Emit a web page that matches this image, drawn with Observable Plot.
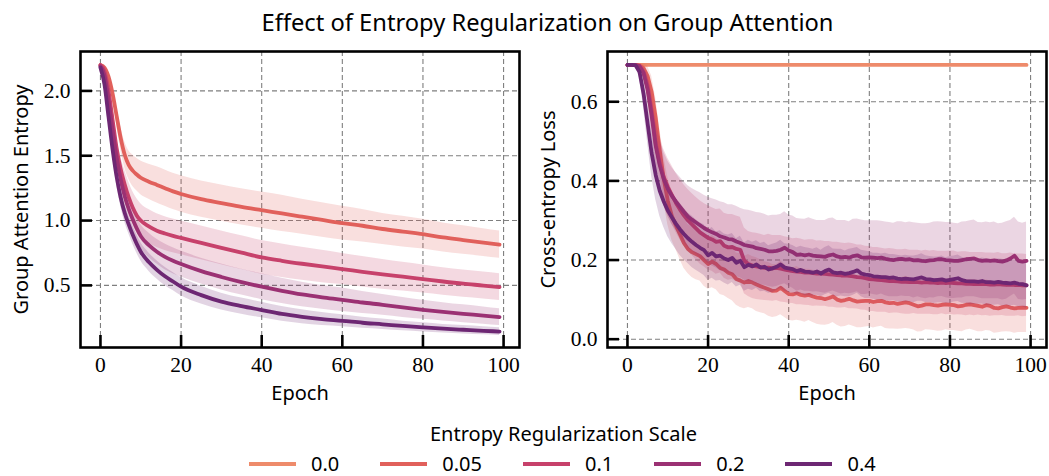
<!DOCTYPE html>
<html>
<head>
<meta charset="utf-8">
<script src="https://cdn.jsdelivr.net/npm/d3@7"></script>
<script src="https://cdn.jsdelivr.net/npm/@observablehq/plot@0.6"></script>
<style>
  html, body { margin: 0; padding: 0; background: #fff; }
  #figure { position: relative; width: 1049px; height: 476px; overflow: hidden; font-family: "Noto Sans", sans-serif; color: #000; }
  #title { position: absolute; left: 547.5px; top: 9.5px; transform: translateX(-50%); white-space: nowrap; font-size: 23.7px; line-height: 24px; }
  .panel { position: absolute; top: 0; }
  .panel svg g[aria-label$="tick label"] { font-family: "Liberation Serif", "DejaVu Serif", serif !important; font-size: 21.5px !important; font-variant: normal !important; }
  #legend-title { position: absolute; left: 563.5px; top: 424px; transform: translateX(-50%); white-space: nowrap; font-size: 20px; line-height: 20px; }
  #legend { position: absolute; left: 249px; top: 453.5px; display: flex; align-items: center; height: 20px; font-size: 20px; line-height: 20px; white-space: nowrap; }
  .item { display: flex; align-items: center; margin-right: 41px; }
  .item svg { display: block; margin-right: 15px; }
</style>
</head>
<body>
<div id="figure">
  <div id="title">Effect of Entropy Regularization on Group Attention</div>
  <div id="left" class="panel" style="left:0"></div>
  <div id="right" class="panel" style="left:525px"></div>
  <div id="legend-title">Entropy Regularization Scale</div>
  <div id="legend"></div>
</div>
<script>
// Regularization scales and their line colours
const scaleLabels = ["0.0", "0.05", "0.1", "0.2", "0.4"];
const seriesColors = ["#ee8b6b", "#e1605b", "#c7416b", "#9b3173", "#6d2773"];

// Axis ticks
const xTicks = [0, 20, 40, 60, 80, 100];
const entropyTicks = [0.5, 1.0, 1.5, 2.0];
const lossTicks = [0.0, 0.2, 0.4, 0.6];

// Group attention entropy (mean and spread) at sampled epochs
const entropyEpochs = [0,1,2,3,4,5,6,7,8,9,10,12,14,16,18,20,25,30,35,40,45,50,55,60,65,70,75,80,85,90,95,99];
const entropy005 = [2.20,2.18,2.11,1.98,1.81,1.64,1.51,1.43,1.385,1.355,1.33,1.30,1.275,1.25,1.225,1.205,1.165,1.135,1.105,1.08,1.055,1.03,1.005,0.98,0.96,0.935,0.915,0.895,0.87,0.85,0.83,0.814];
const entropySd005 = [0.01,0.02,0.03,0.05,0.07,0.09,0.10,0.11,0.12,0.125,0.13,0.135,0.14,0.14,0.14,0.14,0.14,0.14,0.14,0.14,0.14,0.135,0.133,0.13,0.125,0.12,0.118,0.115,0.112,0.11,0.107,0.105];
const entropy01 = [2.20,2.15,2.00,1.78,1.56,1.40,1.28,1.18,1.10,1.04,1.00,0.955,0.922,0.90,0.882,0.866,0.828,0.789,0.752,0.716,0.69,0.667,0.646,0.626,0.605,0.585,0.567,0.549,0.53,0.513,0.499,0.487];
const entropySd01 = [0.01,0.02,0.04,0.06,0.08,0.10,0.11,0.12,0.125,0.13,0.13,0.13,0.13,0.13,0.13,0.13,0.13,0.13,0.13,0.13,0.13,0.128,0.125,0.12,0.117,0.114,0.111,0.108,0.106,0.105,0.104,0.103];
const entropy02 = [2.19,2.12,1.93,1.70,1.49,1.32,1.19,1.09,1.01,0.94,0.88,0.81,0.76,0.72,0.69,0.665,0.61,0.565,0.525,0.49,0.458,0.43,0.408,0.389,0.368,0.35,0.33,0.312,0.296,0.281,0.267,0.255];
const entropySd02 = [0.01,0.02,0.04,0.055,0.07,0.08,0.085,0.09,0.09,0.09,0.09,0.095,0.095,0.1,0.1,0.1,0.1,0.1,0.1,0.1,0.098,0.095,0.092,0.09,0.085,0.08,0.077,0.074,0.071,0.069,0.067,0.065];
const entropy04 = [2.18,2.05,1.80,1.55,1.34,1.18,1.06,0.97,0.89,0.82,0.76,0.68,0.62,0.57,0.53,0.49,0.425,0.375,0.34,0.31,0.28,0.258,0.24,0.227,0.212,0.2,0.187,0.176,0.166,0.158,0.15,0.144];
const entropySd04 = [0.01,0.02,0.04,0.05,0.06,0.065,0.07,0.07,0.07,0.07,0.07,0.07,0.07,0.07,0.07,0.07,0.068,0.065,0.062,0.06,0.057,0.054,0.05,0.046,0.043,0.04,0.037,0.035,0.033,0.032,0.031,0.03];

// Cross-entropy loss (mean and spread) for every epoch
const lossEpochs = d3.range(100);
const lossFlatEpochs = [0, 25, 50, 75, 99];
const loss00 = [0.693, 0.693, 0.693, 0.693, 0.693];
const loss005 = [
  .693,.693,.693,.692,.685,.665,.625,.56,.478,.405,
  .35,.312,.288,.265,.243,.228,.22,.215,.21,.2,
  .19,.196,.19,.18,.176,.168,.164,.152,.148,.143,
  .147,.143,.138,.134,.13,.126,.122,.123,.13,.122,
  .114,.113,.116,.112,.11,.112,.108,.105,.104,.101,
  .104,.108,.1,.097,.099,.102,.098,.095,.096,.097,
  .097,.094,.096,.097,.093,.091,.092,.089,.091,.093,
  .091,.087,.083,.085,.088,.088,.086,.085,.087,.088,
  .087,.086,.083,.084,.087,.088,.086,.084,.082,.086,
  .084,.079,.078,.081,.083,.08,.078,.079,.08,.079];
const lossSd005 = [
  0,0,0,.002,.01,.025,.04,.05,.055,.058,
  .06,.062,.061,.063,.064,.062,.064,.065,.063,.066,
  .064,.066,.065,.067,.066,.065,.067,.066,.068,.066,
  .067,.066,.068,.067,.066,.068,.067,.066,.068,.067,
  .066,.067,.068,.066,.067,.065,.066,.067,.068,.066,
  .067,.066,.065,.066,.067,.066,.065,.066,.067,.066,
  .065,.066,.065,.064,.066,.065,.066,.064,.065,.066,
  .065,.064,.065,.066,.064,.065,.064,.065,.066,.064,
  .065,.064,.063,.065,.064,.063,.064,.065,.063,.064,
  .063,.064,.062,.063,.064,.062,.063,.062,.063,.062];
const loss01 = [
  .693,.693,.693,.69,.675,.64,.575,.495,.445,.41,
  .385,.365,.345,.328,.313,.3,.29,.28,.27,.263,
  .256,.252,.246,.248,.236,.232,.233,.228,.226,.198,
  .19,.186,.184,.182,.18,.181,.179,.18,.178,.176,
  .174,.172,.171,.17,.168,.168,.167,.166,.166,.165,
  .164,.163,.162,.161,.161,.16,.159,.157,.156,.154,
  .152,.151,.15,.149,.148,.147,.147,.146,.145,.145,
  .144,.145,.144,.143,.144,.143,.143,.142,.143,.142,
  .143,.142,.141,.141,.14,.14,.139,.14,.139,.139,
  .138,.138,.139,.138,.137,.138,.137,.137,.136,.136];
const lossSd01 = [
  0,0,0,.003,.015,.035,.05,.06,.066,.07,
  .072,.074,.075,.076,.077,.078,.078,.079,.08,.08,
  .081,.08,.082,.081,.082,.083,.082,.083,.082,.083,
  .082,.083,.084,.083,.082,.084,.083,.082,.084,.083,
  .083,.082,.084,.083,.082,.083,.084,.082,.083,.082,
  .083,.082,.083,.082,.081,.083,.082,.081,.082,.081,
  .082,.081,.082,.081,.08,.082,.081,.08,.081,.082,
  .081,.08,.081,.08,.081,.08,.081,.08,.079,.08,
  .08,.081,.079,.08,.081,.079,.08,.079,.08,.079,
  .08,.079,.08,.078,.079,.08,.079,.078,.079,.078];
const loss02 = [
  .693,.693,.693,.69,.672,.63,.565,.49,.44,.405,
  .38,.362,.348,.335,.322,.31,.302,.295,.288,.281,
  .275,.27,.266,.26,.257,.253,.252,.247,.243,.238,
  .236,.234,.23,.228,.226,.222,.222,.223,.226,.231,
  .224,.22,.213,.214,.212,.214,.211,.21,.209,.208,
  .212,.214,.209,.207,.208,.206,.21,.212,.207,.206,
  .207,.206,.205,.206,.203,.201,.2,.202,.203,.201,
  .202,.199,.2,.198,.197,.199,.2,.202,.202,.2,
  .199,.198,.198,.2,.202,.203,.204,.2,.198,.199,
  .198,.199,.197,.196,.199,.204,.211,.198,.196,.198];
const lossSd02 = [
  0,0,0,.003,.015,.035,.048,.058,.064,.068,
  .07,.072,.073,.075,.076,.078,.079,.08,.082,.083,
  .084,.085,.086,.087,.088,.087,.088,.089,.088,.089,
  .09,.089,.09,.091,.09,.089,.091,.09,.089,.091,
  .09,.091,.092,.09,.091,.093,.092,.09,.091,.092,
  .093,.092,.091,.093,.092,.091,.093,.092,.094,.093,
  .092,.093,.094,.092,.093,.094,.093,.095,.094,.093,
  .094,.095,.093,.094,.095,.094,.096,.095,.094,.095,
  .096,.095,.094,.096,.095,.096,.097,.095,.096,.097,
  .096,.097,.095,.097,.098,.096,.097,.098,.097,.098];
const loss04 = [
  .693,.693,.692,.675,.62,.545,.47,.415,.375,.348,
  .325,.308,.292,.278,.266,.255,.246,.238,.231,.225,
  .212,.218,.209,.211,.204,.2,.205,.193,.198,.182,
  .188,.184,.189,.181,.183,.176,.179,.183,.189,.181,
  .179,.177,.172,.175,.171,.17,.168,.171,.166,.172,
  .176,.169,.167,.168,.165,.167,.17,.174,.166,.163,
  .162,.159,.158,.157,.157,.155,.156,.153,.152,.153,
  .152,.151,.154,.156,.152,.151,.149,.15,.151,.148,
  .15,.152,.154,.149,.147,.146,.146,.145,.147,.144,
  .144,.143,.145,.143,.142,.141,.143,.14,.139,.136];
const lossSd04 = [
  0,0,.002,.015,.035,.05,.058,.062,.064,.065,
  .066,.066,.065,.066,.065,.064,.065,.064,.063,.064,
  .063,.064,.062,.063,.062,.063,.062,.061,.062,.061,
  .062,.061,.06,.061,.062,.06,.061,.06,.061,.06,
  .061,.06,.059,.06,.061,.06,.059,.06,.059,.06,
  .06,.059,.06,.059,.058,.06,.059,.058,.059,.06,
  .059,.058,.059,.058,.06,.059,.058,.059,.058,.059,
  .058,.059,.058,.06,.059,.058,.059,.058,.059,.058,
  .059,.058,.059,.058,.057,.059,.058,.057,.058,.059,
  .058,.057,.058,.059,.057,.058,.057,.058,.057,.058];

// Tidy rows: epoch, mean, and the band around it
function toRows(epochs, mean, sd) {
  return epochs.map((epoch, i) => ({
    epoch,
    mean: mean[i],
    lo: sd ? mean[i] - sd[i] : mean[i],
    hi: sd ? mean[i] + sd[i] : mean[i]
  }));
}

const entropySeries = [
  {scale: "0.05", band: true, data: toRows(entropyEpochs, entropy005, entropySd005)},
  {scale: "0.1",  band: true, data: toRows(entropyEpochs, entropy01, entropySd01)},
  {scale: "0.2",  band: true, data: toRows(entropyEpochs, entropy02, entropySd02)},
  {scale: "0.4",  band: true, data: toRows(entropyEpochs, entropy04, entropySd04)}
];

const lossSeries = [
  {scale: "0.0",  band: false, data: toRows(lossFlatEpochs, loss00, null)},
  {scale: "0.05", band: true,  data: toRows(lossEpochs, loss005, lossSd005)},
  {scale: "0.1",  band: true,  data: toRows(lossEpochs, loss01, lossSd01)},
  {scale: "0.2",  band: true,  data: toRows(lossEpochs, loss02, lossSd02)},
  {scale: "0.4",  band: true,  data: toRows(lossEpochs, loss04, lossSd04)}
];

const FRAME_W = 439;
const FRAME_H = 296;
const TICK_LEN = 12;
const TICK_FONT = "'Liberation Serif', 'DejaVu Serif', serif";
const LABEL_FONT = "Noto Sans";
const colorOf = (s) => seriesColors[scaleLabels.indexOf(s)];

function panel({series, yDomain, yTicks, yLabel, marginLeft, marginRight, curve}) {
  const dataMarks = series.flatMap(({scale, band, data}) => [
    band ? Plot.areaY(data, {x: "epoch", y1: "lo", y2: "hi", fill: colorOf(scale), fillOpacity: 0.2, curve}) : null,
    Plot.line(data, {x: "epoch", y: "mean", stroke: colorOf(scale), strokeWidth: 3.8, curve})
  ]);
  const grid = {stroke: "#7f7f7f", strokeOpacity: 1, strokeWidth: 1.1, strokeDasharray: "5,3"};
  return Plot.plot({
    width: marginLeft + FRAME_W + marginRight,
    height: 410,
    marginLeft,
    marginRight,
    marginTop: 51,
    marginBottom: 63,
    x: {domain: [-4.95, 103.95]},
    y: {domain: yDomain},
    style: {color: "#000", background: "transparent", overflow: "visible"},
    marks: [
      Plot.gridX({ticks: xTicks, ...grid}),
      Plot.gridY({ticks: yTicks, ...grid}),
      ...dataMarks,
      Plot.ruleX(xTicks, {x: (d) => d, insetTop: FRAME_H - TICK_LEN, stroke: "#000", strokeWidth: 2.6}),
      Plot.ruleY(yTicks, {y: (d) => d, insetRight: FRAME_W - TICK_LEN, stroke: "#000", strokeWidth: 2.6}),
      Plot.axisX({ticks: xTicks, tickSize: 0, tickPadding: 9, label: null, tickFormat: (d) => String(d),
                  fontFamily: TICK_FONT, fontSize: 21.5}),
      Plot.axisY({ticks: yTicks, tickSize: 0, tickPadding: 10, label: null, tickFormat: d3.format(".1f"),
                  fontFamily: TICK_FONT, fontSize: 21.5}),
      Plot.frame({stroke: "#000", strokeWidth: 2.6}),
      Plot.text([yLabel], {text: (d) => d, frameAnchor: "left", textAnchor: "middle", lineAnchor: "middle",
                           rotate: -90, dx: -59, fontFamily: LABEL_FONT, fontSize: 20}),
      Plot.text(["Epoch"], {text: (d) => d, frameAnchor: "bottom", textAnchor: "middle", lineAnchor: "middle",
                            dy: 46, fontFamily: LABEL_FONT, fontSize: 20})
    ]
  });
}

document.getElementById("left").append(panel({
  series: entropySeries,
  yDomain: [0.021, 2.304],
  yTicks: entropyTicks,
  yLabel: "Group Attention Entropy",
  marginLeft: 80,
  marginRight: 6,
  curve: "monotone-x"
}));

document.getElementById("right").append(panel({
  series: lossSeries,
  yDomain: [-0.021, 0.727],
  yTicks: lossTicks,
  yLabel: "Cross-entropy Loss",
  marginLeft: 82,
  marginRight: 3,
  curve: "linear"
}));

// Legend row built from the same scales and colours
const legend = document.getElementById("legend");
scaleLabels.forEach((label, i) => {
  const item = document.createElement("div");
  item.className = "item";
  item.innerHTML = `<svg width="47" height="6"><line x1="0" x2="47" y1="3" y2="3" stroke="${seriesColors[i]}" stroke-width="4"/></svg><span>${label}</span>`;
  legend.append(item);
});
</script>
</body>
</html>
